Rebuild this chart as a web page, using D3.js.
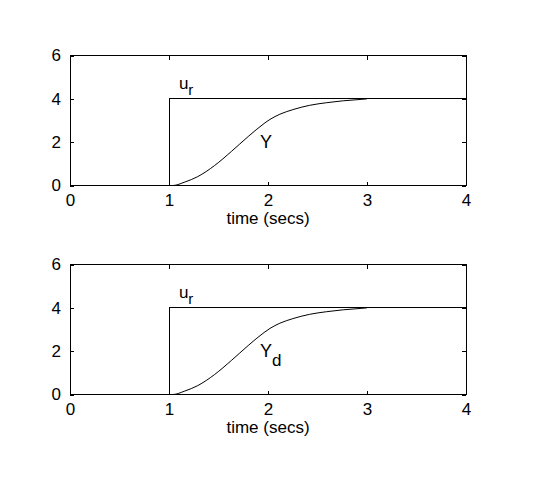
<!DOCTYPE html>
<html>
<head>
<meta charset="utf-8">
<script src="https://cdn.jsdelivr.net/npm/d3@7"></script>
<style>
body { margin: 0; background: #fff; }
text { font-family: "Liberation Sans", Arial, sans-serif; }
</style>
</head>
<body>
<svg id="chart" width="558" height="492"></svg>
<script>
// reference step u_r and responses Y, Yd
var refT = [0, 1, 1, 4];
var refV = [0, 0, 4, 4];
var respT = [1, 1.04, 1.16, 1.29, 1.46, 1.63, 1.80, 1.96, 2.02, 2.12, 2.25, 2.42, 2.59, 2.76, 2.93, 3];
var respY = [0, 0, 0.16, 0.41, 0.92, 1.57, 2.26, 2.86, 3.05, 3.29, 3.50, 3.70, 3.82, 3.91, 3.97, 4.0];
var respYd = [0, 0, 0.16, 0.41, 0.92, 1.57, 2.26, 2.86, 3.05, 3.29, 3.50, 3.70, 3.82, 3.91, 3.97, 4.0];
var xTicks = [0, 1, 2, 3, 4];
var yTicks = [0, 2, 4, 6];

var svg = d3.select("#chart");

var x = d3.scaleLinear().domain([0, 4]).range([70, 466]);

function panel(top, bottom, yData, sub) {
    var y = d3.scaleLinear().domain([0, 6]).range([bottom, top]);
    var g = svg.append("g");

    g.append("rect")
        .attr("x", x(0)).attr("y", top)
        .attr("width", x(4) - x(0)).attr("height", bottom - top)
        .attr("fill", "none").attr("stroke", "#000").attr("stroke-width", 1)
        .attr("shape-rendering", "crispEdges");

    // inward ticks on all four sides
    g.append("g").attr("transform", "translate(0," + bottom + ")")
        .call(d3.axisBottom(x).tickValues(xTicks).tickSize(-4).tickPadding(8).tickFormat(d3.format("d")))
        .call(function (a) { a.select(".domain").remove(); });
    g.append("g").attr("transform", "translate(0," + top + ")")
        .call(d3.axisTop(x).tickValues(xTicks).tickSize(-4).tickFormat(""))
        .call(function (a) { a.select(".domain").remove(); });
    g.append("g").attr("transform", "translate(" + x(0) + ",0)")
        .call(d3.axisLeft(y).tickValues(yTicks).tickSize(-4).tickPadding(9).tickFormat(d3.format("d")))
        .call(function (a) { a.select(".domain").remove(); });
    g.append("g").attr("transform", "translate(" + x(4) + ",0)")
        .call(d3.axisRight(y).tickValues(yTicks).tickSize(-4).tickFormat(""))
        .call(function (a) { a.select(".domain").remove(); });

    g.selectAll(".tick text").attr("font-size", 17).attr("fill", "#000")
        .attr("font-family", "Liberation Sans, Arial, sans-serif");
    g.selectAll(".tick line").attr("stroke", "#000").attr("shape-rendering", "crispEdges");

    var line = d3.line().x(function (d) { return x(d[0]); }).y(function (d) { return y(d[1]); });

    g.append("path")
        .attr("d", line(d3.zip(refT, refV)))
        .attr("fill", "none").attr("stroke", "#000").attr("stroke-width", 1)
        .attr("shape-rendering", "crispEdges");

    g.append("path")
        .attr("d", d3.line().curve(d3.curveMonotoneX)
            .x(function (d) { return x(d[0]); }).y(function (d) { return y(d[1]); })(d3.zip(respT, yData)))
        .attr("fill", "none").attr("stroke", "#000").attr("stroke-width", 1);

    var ur = g.append("text").attr("x", x(1.1)).attr("y", y(4.45)).attr("font-size", 17);
    ur.append("tspan").text("u");
    ur.append("tspan").attr("dy", 6).attr("font-size", 15).text("r");

    var lab = g.append("text").attr("x", x(1.92)).attr("y", y(1.75)).attr("font-size", 18);
    lab.append("tspan").text("Y");
    if (sub) lab.append("tspan").attr("dy", 9).attr("font-size", 17).text(sub);

    g.append("text")
        .attr("x", x(2)).attr("y", bottom + 38)
        .attr("text-anchor", "middle").attr("font-size", 17)
        .text("time (secs)");
}

panel(55.5, 185.5, respY, null);
panel(264.5, 394.5, respYd, "d");
</script>
</body>
</html>
